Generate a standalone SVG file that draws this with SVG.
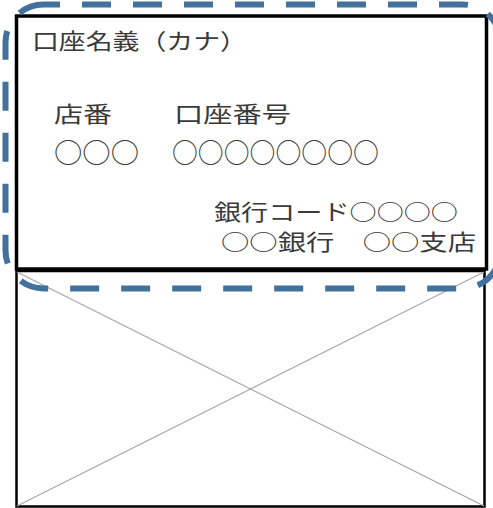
<svg xmlns="http://www.w3.org/2000/svg" width="493" height="508" viewBox="0 0 493 508">
<style>
.t{font-family:"Noto Sans CJK JP","Noto Sans CJK SC",sans-serif;font-size:22px;fill:#3a3a3a;}
.c{font-size:27px;}
.box{fill:#ffffff;stroke:#000000;}
.x{stroke:#a6a6a6;stroke-width:1.2;}
</style>
<rect width="493" height="508" fill="#ffffff"/>
<g id="lower-panel">
<rect class="box" x="16.5" y="271" width="468" height="235.5" stroke-width="2.5"/>
<line class="x" x1="17" y1="272" x2="484" y2="506"/>
<line class="x" x1="484" y1="272" x2="17" y2="506"/>
</g>
<g id="upper-panel">
<rect class="box" x="16.5" y="16" width="470" height="253" stroke-width="3.5"/>
<text class="t" x="32" y="48.5" textLength="215" lengthAdjust="spacingAndGlyphs">口座名義（カナ）</text>
<text class="t" x="54" y="122" textLength="58" lengthAdjust="spacingAndGlyphs">店番</text>
<text class="t" x="174" y="122" textLength="117" lengthAdjust="spacingAndGlyphs">口座番号</text>
<text class="t c" x="54" y="162.5" textLength="85" lengthAdjust="spacingAndGlyphs">○○○</text>
<text class="t c" x="172" y="162.5" textLength="207" lengthAdjust="spacingAndGlyphs">○○○○○○○○</text>
<text class="t" x="214" y="220" textLength="244" lengthAdjust="spacingAndGlyphs">銀行コード○○○○</text>
<text class="t" x="221" y="250" textLength="255" lengthAdjust="spacingAndGlyphs">○○銀行　○○支店</text>
</g>
<g id="highlight">
<rect x="5.5" y="4.5" width="495" height="284" rx="38" ry="38" fill="none" stroke="#41719c" stroke-width="6" stroke-dasharray="29 22" stroke-dashoffset="12.5"/>
</g>
</svg>
